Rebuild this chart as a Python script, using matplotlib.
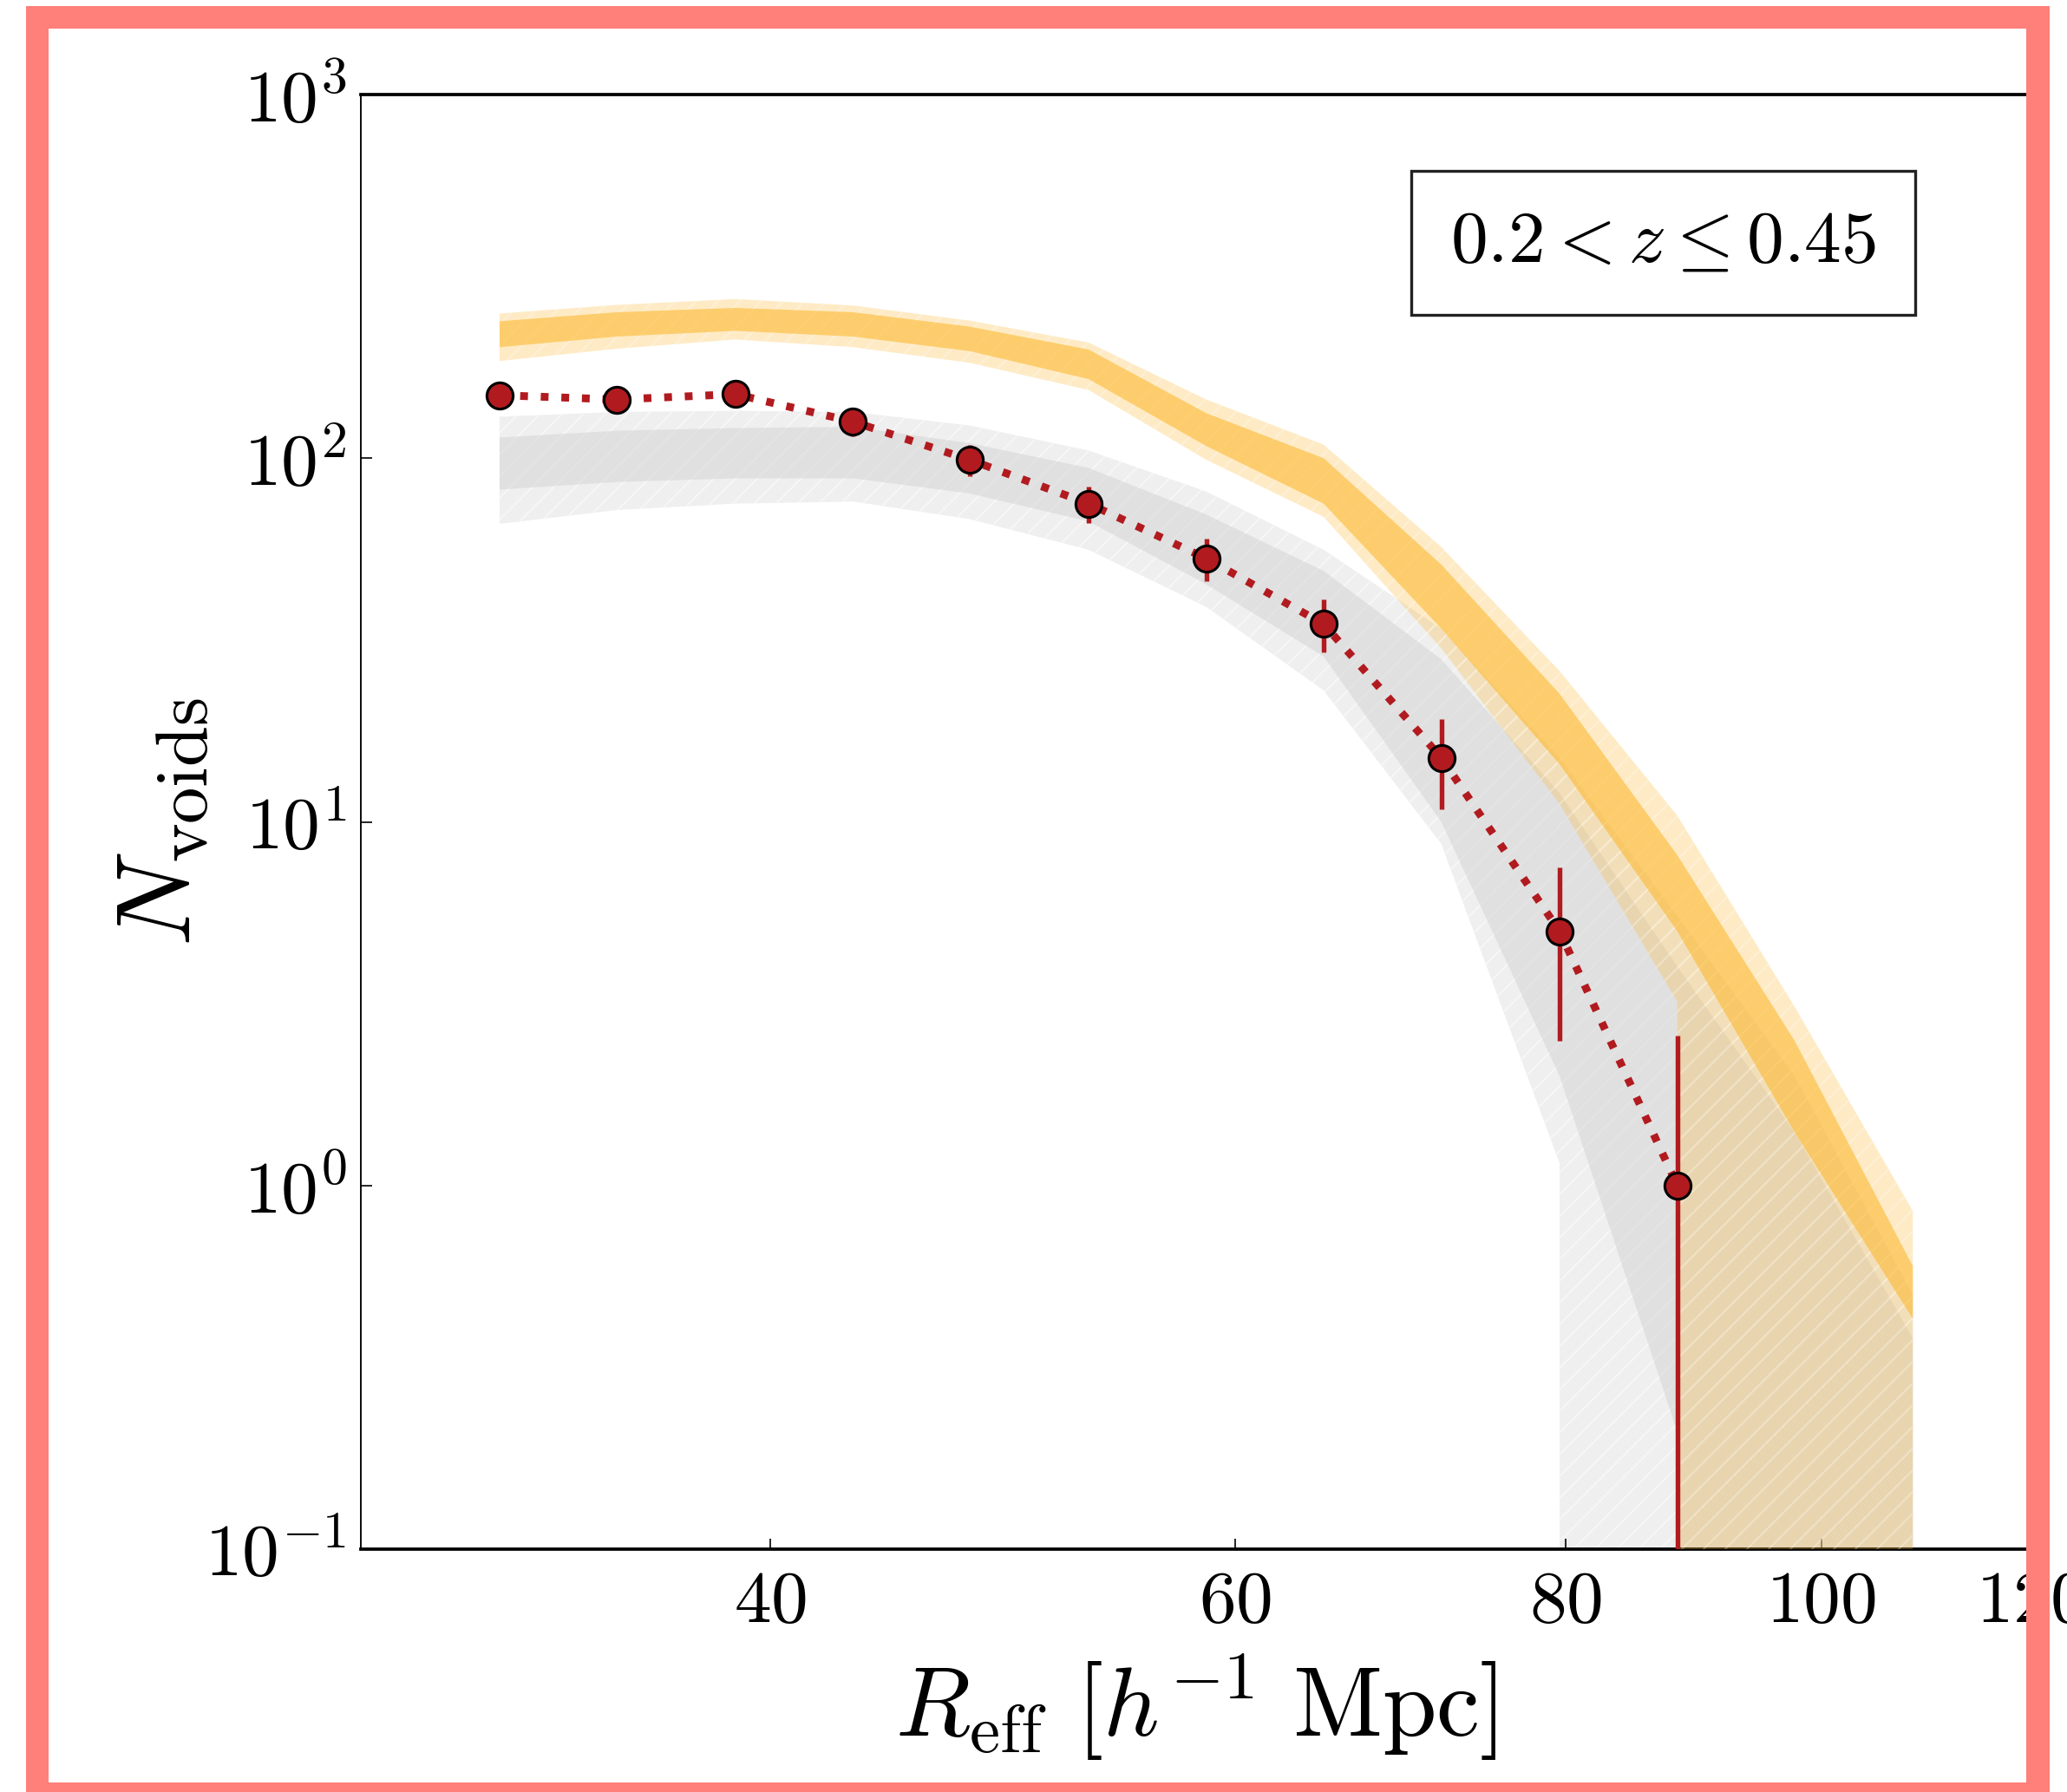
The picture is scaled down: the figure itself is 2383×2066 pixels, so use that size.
import numpy as np
import matplotlib
matplotlib.use("Agg")
import matplotlib.pyplot as plt
from matplotlib.patches import Rectangle
from matplotlib.ticker import NullLocator

plt.rcParams["mathtext.fontset"] = "cm"
plt.rcParams["font.family"] = "serif"
plt.rcParams["font.serif"] = ["cmr10", "DejaVu Serif"]
plt.rcParams["axes.formatter.use_mathtext"] = True
plt.rcParams["hatch.linewidth"] = 1.0

# centres des bins en rayon effectif
r_eff = [31.6, 35.0, 38.8, 43.0, 47.6, 52.8, 58.5, 64.8, 71.8, 79.6, 88.2, 97.7, 108.3]

# comptage observé
n_obs = [149, 145, 150, 126, 99, 75, 53, 35, 15, 5, 1]
n_err = [12.2, 12.0, 12.2, 11.2, 9.9, 8.7, 7.0, 5.8, 4.2, 2.5, 1.58]

# modèle gris (2 sigma haut, 1 sigma haut, 1 sigma bas, 2 sigma bas)
gris_hi2 = [130, 134, 135, 134, 123, 105, 81, 56, 34, 15, 5.5, 2.0, 0.5]
gris_hi1 = [114, 119, 121, 122, 110, 94, 70, 49, 28, 12, 4.0, 1.4, 0.38]
gris_lo1 = [82, 86, 88, 88, 80, 67, 45, 28.5, 10, 2.0, 0.21, 0, 0]
gris_lo2 = [66, 72, 75, 76, 68, 56, 39, 23, 8.7, 1.15, 0, 0, 0]

# modèle orange
or_hi2 = [250, 264, 274, 263, 239, 208, 145, 109, 57, 26, 10.4, 3.1, 0.85]
or_hi1 = [238, 252, 259, 252, 230, 199, 133, 100, 51, 22.5, 8.1, 2.5, 0.6]
or_lo1 = [202, 216, 224, 216, 197, 165, 108, 75, 34, 14.4, 5.0, 1.4, 0.43]
or_lo2 = [185, 200, 212, 202, 183, 154, 99, 69, 30, 11.2, 3.2, 0, 0]

xticks = [40, 60, 80, 100, 120]
yticks = [0.1, 1, 10, 100, 1000]
ylabels = [r"$10^{-1}$", r"$10^{0}$", r"$10^{1}$", r"$10^{2}$", r"$10^{3}$"]

rouge = "#b11b1f"
orange = "#fdb932"

fig = plt.figure(figsize=(2383 / 150, 2066 / 150), dpi=150)
ax = fig.add_axes([416 / 2383, 280 / 2066, 1925 / 2383, 1677 / 2066])

x = np.array(r_eff)
ax.fill_between(x, gris_lo2, gris_hi2, facecolor="#efefef", edgecolor="#f6f6f6",
                hatch="//", linewidth=0, zorder=1)
ax.fill_between(x, gris_lo1, gris_hi1, facecolor="#cfcfcf", linewidth=0,
                alpha=0.45, zorder=2)
ax.fill_between(x, or_lo2, or_hi2, facecolor=orange, edgecolor="white",
                hatch="//", linewidth=0, alpha=0.28, zorder=3)
ax.fill_between(x, or_lo1, or_hi1, facecolor=orange, linewidth=0,
                alpha=0.6, zorder=4)

xo = x[:len(n_obs)]
ax.errorbar(xo, n_obs, yerr=n_err, fmt="none", ecolor=rouge, elinewidth=2.6,
            capsize=0, zorder=5)
ax.plot(xo, n_obs, ":", color=rouge, lw=4.3, zorder=6)
ax.plot(xo, n_obs, "o", color=rouge, ms=14.5, mec="black", mew=1.5, zorder=7)

ax.set_xscale("log")
ax.set_yscale("log")
ax.set_xlim(28, 120)
ax.set_ylim(0.1, 1000)
ax.xaxis.set_minor_locator(NullLocator())
ax.yaxis.set_minor_locator(NullLocator())
ax.set_xticks(xticks)
ax.set_xticklabels(["$%d$" % t for t in xticks])
ax.set_yticks(yticks)
ax.set_yticklabels(ylabels)
ax.tick_params(direction="in", length=6, width=0.8, labelsize=41)
ax.tick_params(axis="x", pad=12)
ax.tick_params(axis="y", pad=8)
for s in ["top", "bottom"]:
    ax.spines[s].set_linewidth(1.8)
for s in ["left", "right"]:
    ax.spines[s].set_linewidth(0.9)

ax.set_xlabel(r"$R_{\rm eff}\ [h^{-1}\ {\rm Mpc}]$", fontsize=54)
ax.xaxis.set_label_coords(0.5, -0.07)
ax.set_ylabel(r"$N_{\rm voids}$", fontsize=58)
ax.yaxis.set_label_coords(-0.09, 0.5)

ax.text(0.78, 0.898, r"$0.2 < z \leq 0.45$", transform=ax.transAxes,
        fontsize=41, ha="center", va="center",
        bbox=dict(boxstyle="square,pad=0.53", facecolor="white",
                  edgecolor="#222222", linewidth=1.6))

# cadre rose
W, H = 2383.0, 2066.0
rose = "#ff7f7a"
for (x0, y0, x1, y1) in [(30, 7, 2363, 33), (30, 7, 56, 2066),
                         (2336, 7, 2363, 2066), (30, 2055, 2363, 2066)]:
    fig.add_artist(Rectangle((x0 / W, 1 - y1 / H), (x1 - x0) / W, (y1 - y0) / H,
                             transform=fig.transFigure, facecolor=rose,
                             edgecolor="none", zorder=20))

fig.savefig("out.png", dpi=150)
